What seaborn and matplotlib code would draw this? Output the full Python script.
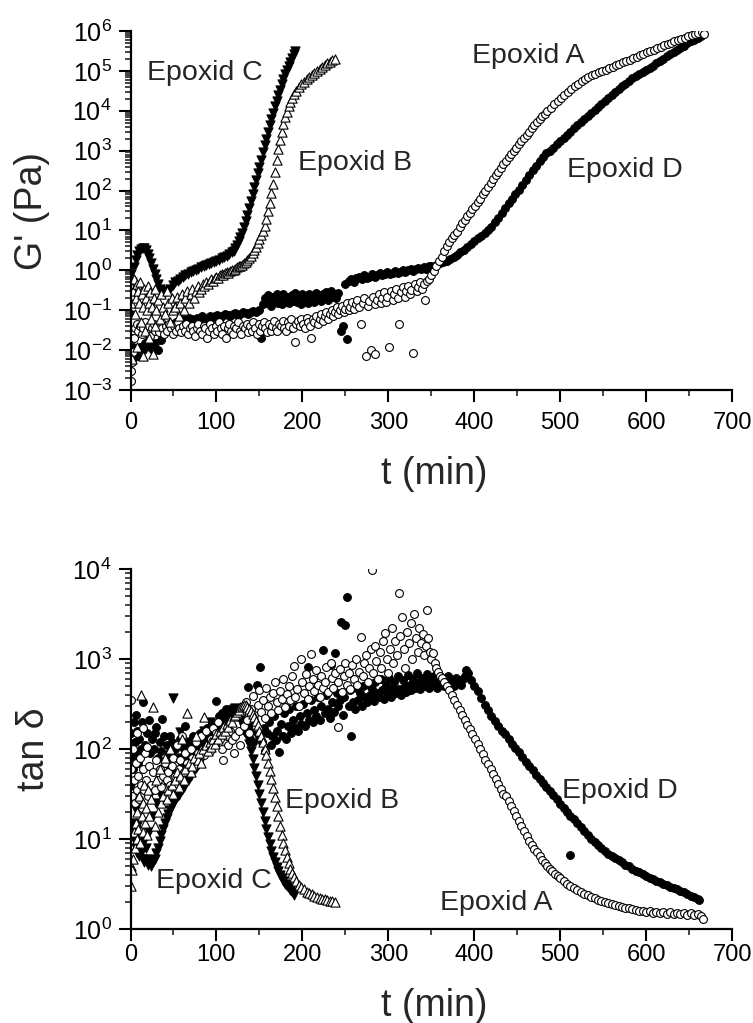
import numpy as np
import pandas as pd
import matplotlib
matplotlib.use('Agg')
import matplotlib.pyplot as plt
import seaborn as sns
from matplotlib.ticker import MultipleLocator, LogLocator, LogFormatterMathtext, NullFormatter

# ---------- G' (Pa) vs t (min) ----------
g_A = [(0, 0.0017), (1, 0.003), (2, 0.005), (3, 0.009), (4, 0.02), (5, 0.035), (7, 0.045), (9, 0.03),
       (11, 0.04), (13, 0.025), (15, 0.035), (17, 0.05), (19, 0.03), (21, 0.04), (23, 0.022), (25, 0.035),
       (27, 0.045), (29, 0.03), (31, 0.04), (33, 0.028), (35, 0.05), (37, 0.035), (39, 0.025), (41, 0.04),
       (43, 0.03), (45, 0.045), (47, 0.035), (49, 0.025), (51, 0.04), (53, 0.03), (55, 0.05), (57, 0.035),
       (59, 0.028), (61, 0.04), (63, 0.03), (65, 0.045), (67, 0.025), (69, 0.035), (71, 0.04), (73, 0.03),
       (75, 0.022), (77, 0.035), (79, 0.045), (81, 0.03), (83, 0.025), (85, 0.04), (87, 0.035), (89, 0.02),
       (91, 0.03), (93, 0.045), (95, 0.035), (97, 0.025), (99, 0.04), (101, 0.03), (103, 0.05), (105, 0.035),
       (107, 0.025), (109, 0.04), (111, 0.02), (113, 0.035), (115, 0.045), (117, 0.03), (119, 0.025),
       (121, 0.04), (123, 0.035), (125, 0.05), (127, 0.03), (129, 0.025), (131, 0.04), (133, 0.035),
       (135, 0.045), (137, 0.028), (139, 0.04), (141, 0.03), (143, 0.05), (145, 0.035), (147, 0.025),
       (149, 0.045), (151, 0.03), (153, 0.04), (155, 0.05), (157, 0.035), (159, 0.028), (161, 0.045),
       (163, 0.03), (165, 0.04), (167, 0.055), (169, 0.035), (171, 0.03), (173, 0.045), (175, 0.04),
       (177, 0.055), (179, 0.035), (181, 0.03), (183, 0.05), (185, 0.04), (187, 0.06), (189, 0.035),
       (191, 0.016), (193, 0.045), (195, 0.055), (197, 0.04), (199, 0.06), (201, 0.045), (203, 0.035),
       (205, 0.065), (207, 0.05), (209, 0.04), (210, 0.02), (212, 0.06), (214, 0.05), (216, 0.07),
       (218, 0.045), (220, 0.06), (222, 0.08), (224, 0.055), (226, 0.07), (228, 0.09), (230, 0.06),
       (232, 0.08), (234, 0.1), (236, 0.07), (238, 0.09), (240, 0.12), (242, 0.08), (244, 0.1), (246, 0.13),
       (248, 0.09), (250, 0.11), (252, 0.15), (254, 0.1), (256, 0.12), (258, 0.16), (260, 0.11), (262, 0.14),
       (264, 0.18), (266, 0.12), (268, 0.045), (270, 0.15), (272, 0.2), (274, 0.007), (276, 0.13),
       (278, 0.17), (280, 0.01), (282, 0.22), (284, 0.14), (285, 0.008), (287, 0.18), (289, 0.25),
       (291, 0.15), (293, 0.2), (295, 0.28), (297, 0.16), (299, 0.22), (301, 0.012), (303, 0.3), (305, 0.18),
       (307, 0.25), (309, 0.35), (311, 0.2), (313, 0.045), (315, 0.28), (317, 0.38), (319, 0.22), (321, 0.3),
       (323, 0.4), (325, 0.25), (327, 0.33), (329, 0.0085), (331, 0.45), (333, 0.3), (335, 0.38), (337, 0.5),
       (339, 0.35), (341, 0.45), (343, 0.18), (345, 0.55), (347, 0.6), (350, 0.75), (353, 0.95), (356, 1.3),
       (359, 1.7), (362, 2.2), (365, 3.0), (368, 4.0), (371, 5.2), (374, 6.5), (377, 7.8), (380, 9.3),
       (383, 12), (386, 15), (389, 18.5), (392, 23), (395, 28), (398, 34), (401, 42), (404, 51), (407, 63),
       (410, 80), (413, 100), (416, 125), (419, 155), (422, 195), (425, 245), (428, 300), (431, 370),
       (434, 460), (437, 560), (440, 680), (443, 830), (446, 1000), (449, 1200), (452, 1450), (455, 1750),
       (458, 2100), (461, 2500), (464, 3000), (467, 3600), (470, 4300), (473, 5100), (476, 6100),
       (479, 7200), (482, 8500), (485, 1.0e4), (489, 1.2e4), (493, 1.45e4), (497, 1.75e4), (501, 2.1e4),
       (505, 2.5e4), (509, 3.0e4), (513, 3.5e4), (517, 4.1e4), (521, 4.8e4), (525, 5.5e4), (529, 6.2e4),
       (533, 7.0e4), (537, 7.8e4), (541, 8.6e4), (545, 9.3e4), (549, 1.0e5), (553, 1.08e5), (557, 1.17e5),
       (561, 1.27e5), (565, 1.38e5), (569, 1.5e5), (573, 1.63e5), (577, 1.77e5), (581, 1.92e5),
       (585, 2.08e5), (589, 2.25e5), (593, 2.45e5), (597, 2.65e5), (601, 2.9e5), (605, 3.15e5),
       (609, 3.4e5), (613, 3.7e5), (617, 4.0e5), (621, 4.35e5), (625, 4.7e5), (629, 5.1e5), (633, 5.5e5),
       (637, 5.9e5), (641, 6.3e5), (645, 6.8e5), (649, 7.3e5), (653, 7.8e5), (657, 8.3e5), (661, 8.8e5),
       (665, 9.3e5), (667, 8.5e5)]

g_B = [(0, 0.4), (1, 0.15), (2, 0.006), (3, 0.3), (4, 0.6), (5, 0.08), (6, 0.2), (7, 0.45), (8, 0.012),
       (9, 0.3), (10, 0.15), (11, 0.5), (12, 0.05), (13, 0.25), (14, 0.007), (15, 0.12), (16, 0.35),
       (17, 0.03), (18, 0.2), (19, 0.1), (20, 0.4), (21, 0.02), (22, 0.15), (23, 0.28), (24, 0.06),
       (25, 0.12), (26, 0.008), (27, 0.2), (28, 0.35), (29, 0.04), (30, 0.1), (32, 0.18), (34, 0.06),
       (36, 0.25), (38, 0.12), (40, 0.08), (42, 0.3), (44, 0.15), (46, 0.05), (48, 0.2), (50, 0.1),
       (52, 0.12), (54, 0.22), (56, 0.07), (58, 0.15), (60, 0.25), (62, 0.1), (64, 0.2), (66, 0.3),
       (68, 0.15), (70, 0.25), (72, 0.35), (74, 0.2), (76, 0.3), (78, 0.4), (80, 0.28), (82, 0.35),
       (84, 0.45), (86, 0.4), (88, 0.5), (90, 0.45), (92, 0.55), (94, 0.6), (96, 0.55), (98, 0.65),
       (100, 0.7), (102, 0.65), (104, 0.75), (106, 0.8), (108, 0.75), (110, 0.85), (112, 0.9), (114, 0.85),
       (116, 0.95), (118, 1.0), (120, 1.0), (122, 1.1), (124, 1.2), (126, 1.25), (128, 1.3), (130, 1.4),
       (132, 1.5), (134, 1.6), (136, 1.8), (138, 2.0), (140, 2.3), (142, 2.7), (144, 3.2), (146, 3.9),
       (148, 4.8), (150, 6.0), (152, 7.5), (154, 9.5), (156, 13), (158, 19), (160, 30), (162, 50),
       (164, 85), (166, 150), (168, 300), (170, 600), (172, 1100), (174, 1900), (176, 3000), (178, 4600),
       (180, 6800), (182, 9500), (184, 1.3e4), (186, 1.7e4), (188, 2.1e4), (190, 2.6e4), (193, 3.2e4),
       (196, 3.9e4), (199, 4.6e4), (202, 5.4e4), (205, 6.2e4), (208, 7.1e4), (211, 8.0e4), (214, 9.0e4),
       (217, 1.0e5), (220, 1.1e5), (223, 1.25e5), (226, 1.4e5), (229, 1.55e5), (232, 1.7e5),
       (235, 1.85e5), (238, 2.0e5)]

g_C = [(0, 0.8), (2, 0.5), (4, 1.2), (6, 1.8), (8, 2.4), (10, 3.0), (12, 3.4), (14, 3.7), (16, 3.6),
       (18, 3.2), (20, 2.6), (22, 2.0), (24, 1.5), (26, 1.1), (28, 0.8), (30, 0.6), (32, 0.45), (34, 0.35),
       (36, 0.3), (38, 0.25), (40, 0.28), (43, 0.3), (46, 0.35), (49, 0.42), (52, 0.5), (55, 0.55),
       (58, 0.6), (61, 0.7), (64, 0.75), (67, 0.8), (70, 0.9), (73, 0.95), (76, 1.0), (79, 1.1), (82, 1.2),
       (85, 1.3), (88, 1.35), (91, 1.45), (94, 1.55), (97, 1.65), (100, 1.75), (103, 1.85), (106, 2.0),
       (109, 2.1), (112, 2.3), (115, 2.5), (118, 2.8), (120, 3.1), (122, 3.6), (124, 4.3), (126, 5.3),
       (128, 6.8), (130, 8.8), (132, 12), (134, 17), (136, 25), (138, 37), (140, 55), (142, 80), (144, 120),
       (146, 180), (148, 270), (150, 400), (152, 600), (154, 900), (156, 1350), (158, 2000), (160, 3000),
       (162, 4300), (164, 6200), (166, 9000), (168, 1.3e4), (170, 1.8e4), (172, 2.5e4), (174, 3.4e4),
       (176, 4.6e4), (178, 6.2e4), (180, 8.2e4), (182, 1.05e5), (184, 1.35e5), (186, 1.7e5), (188, 2.1e5),
       (190, 2.6e5), (192, 3.2e5)]

g_D = [(0, 0.08), (1, 0.02), (2, 0.006), (3, 0.012), (5, 0.009), (8, 0.007), (11, 0.012), (14, 0.01),
       (17, 0.015), (20, 0.017), (23, 0.012), (26, 0.01), (29, 0.015), (32, 0.01), (35, 0.018), (38, 0.025),
       (41, 0.03), (44, 0.035), (47, 0.03), (50, 0.045), (53, 0.05), (56, 0.055), (59, 0.06), (62, 0.055),
       (65, 0.06), (68, 0.065), (71, 0.06), (74, 0.05), (77, 0.065), (80, 0.06), (83, 0.07), (86, 0.065),
       (89, 0.06), (92, 0.07), (95, 0.065), (98, 0.07), (101, 0.075), (104, 0.065), (107, 0.07), (110, 0.08),
       (113, 0.075), (116, 0.07), (119, 0.08), (122, 0.085), (125, 0.075), (128, 0.08), (131, 0.09),
       (134, 0.085), (137, 0.08), (140, 0.09), (143, 0.095), (146, 0.09), (149, 0.1), (152, 0.02),
       (154, 0.14), (156, 0.2), (158, 0.15), (160, 0.24), (162, 0.17), (164, 0.13), (166, 0.22), (168, 0.16),
       (170, 0.26), (172, 0.15), (174, 0.2), (176, 0.14), (178, 0.25), (180, 0.18), (182, 0.22),
       (184, 0.15), (187, 0.035), (188, 0.24), (190, 0.17), (192, 0.27), (194, 0.16), (196, 0.21),
       (198, 0.14), (200, 0.25), (202, 0.19), (204, 0.23), (206, 0.15), (208, 0.26), (210, 0.18),
       (212, 0.22), (214, 0.16), (216, 0.27), (218, 0.2), (220, 0.24), (222, 0.17), (224, 0.25), (226, 0.2),
       (228, 0.28), (230, 0.18), (233, 0.3), (235, 0.22), (237, 0.26), (239, 0.2), (242, 0.27), (245, 0.03),
       (247, 0.04), (250, 0.45), (252, 0.019), (254, 0.55), (257, 0.6), (260, 0.5), (263, 0.65), (266, 0.7),
       (269, 0.6), (272, 0.75), (275, 0.65), (278, 0.7), (281, 0.8), (284, 0.7), (287, 0.75), (290, 0.85),
       (293, 0.75), (296, 0.8), (299, 0.9), (302, 0.8), (305, 0.85), (308, 0.95), (311, 0.85), (314, 0.9),
       (317, 1.0), (320, 0.9), (323, 1.0), (326, 1.1), (329, 0.95), (332, 1.05), (335, 1.15), (338, 1.05),
       (341, 1.2), (344, 1.1), (347, 1.25), (350, 1.3), (353, 1.2), (356, 1.35), (360, 1.5), (364, 1.6),
       (368, 1.7), (372, 1.9), (376, 2.1), (380, 2.4), (384, 2.8), (388, 3.2), (392, 3.8), (396, 4.5),
       (400, 5.3), (404, 6.3), (408, 7.4), (412, 8.6), (416, 10), (420, 12.5), (424, 16), (428, 21),
       (432, 28), (436, 37), (440, 48), (444, 62), (448, 80), (452, 105), (456, 140), (460, 185), (464, 240),
       (468, 320), (472, 420), (476, 550), (480, 700), (484, 850), (488, 1000), (492, 1200), (496, 1450),
       (500, 1750), (504, 2100), (508, 2500), (512, 3000), (516, 3600), (520, 4300), (524, 5100),
       (528, 6100), (532, 7300), (536, 8800), (540, 1.05e4), (544, 1.25e4), (548, 1.5e4), (552, 1.8e4),
       (556, 2.15e4), (560, 2.55e4), (564, 3.0e4), (568, 3.5e4), (572, 4.1e4), (576, 4.8e4), (580, 5.6e4),
       (584, 6.5e4), (588, 7.5e4), (592, 8.5e4), (596, 9.5e4), (600, 1.05e5), (604, 1.2e5), (608, 1.35e5),
       (612, 1.55e5), (616, 1.75e5), (620, 2.0e5), (624, 2.3e5), (628, 2.6e5), (632, 2.95e5), (636, 3.35e5),
       (640, 3.8e5), (644, 4.3e5), (648, 4.9e5), (652, 5.5e5), (656, 6.1e5), (660, 6.8e5), (664, 7.5e5)]

# ---------- tan delta vs t (min) ----------
d_A = [(0, 350), (1, 60), (2, 30), (3, 100), (4, 45), (5, 25), (6, 70), (7, 35), (8, 150), (9, 50),
       (10, 28), (11, 80), (12, 40), (13, 22), (14, 60), (15, 170), (16, 35), (17, 90), (18, 45), (19, 105),
       (20, 30), (22, 65), (24, 40), (26, 55), (28, 35), (30, 75), (32, 45), (34, 60), (36, 38), (38, 50),
       (40, 70), (42, 45), (44, 55), (46, 40), (48, 65), (50, 80), (52, 50), (54, 110), (56, 60), (58, 75),
       (60, 140), (62, 55), (64, 90), (66, 70), (68, 60), (70, 100), (72, 80), (74, 65), (76, 120), (78, 90),
       (80, 75), (82, 140), (84, 100), (86, 85), (88, 160), (90, 110), (92, 95), (94, 130), (96, 170),
       (98, 115), (100, 150), (102, 200), (104, 130), (106, 100), (108, 75), (110, 180), (112, 140),
       (114, 110), (116, 160), (118, 125), (120, 90), (122, 140), (124, 230), (126, 160), (128, 110),
       (130, 260), (132, 180), (134, 330), (136, 210), (138, 150), (140, 280), (142, 390), (144, 240),
       (146, 175), (148, 310), (150, 450), (152, 260), (154, 350), (156, 220), (158, 480), (160, 300),
       (162, 380), (164, 250), (166, 420), (168, 560), (170, 330), (172, 270), (174, 440), (176, 360),
       (178, 600), (180, 290), (182, 410), (184, 500), (186, 350), (188, 640), (190, 830), (192, 380),
       (194, 470), (196, 300), (198, 1000), (200, 550), (202, 420), (204, 680), (206, 360), (208, 500),
       (210, 1140), (212, 600), (214, 440), (216, 760), (218, 520), (220, 380), (222, 650), (224, 480),
       (226, 560), (228, 820), (230, 430), (233, 900), (234, 620), (236, 480), (238, 700), (241, 176),
       (242, 550), (244, 780), (246, 430), (248, 640), (250, 900), (252, 520), (254, 700), (256, 460),
       (258, 850), (260, 600), (262, 1000), (264, 520), (266, 720), (268, 1760), (270, 640), (272, 900),
       (274, 1100), (276, 560), (278, 800), (280, 1300), (281, 9800), (282, 700), (284, 1400), (286, 950),
       (288, 600), (290, 1200), (292, 800), (294, 1600), (296, 1950), (298, 1000), (300, 700), (302, 1300),
       (304, 2200), (306, 900), (308, 1600), (310, 1100), (312, 5400), (314, 1800), (316, 2900), (318, 1300),
       (320, 800), (322, 2000), (324, 1500), (326, 2500), (328, 1000), (330, 3200), (332, 1700),
       (334, 1200), (336, 2200), (338, 1500), (340, 1900), (342, 1100), (344, 1400), (345, 3500),
       (346, 1700), (348, 1200), (350, 1000), (352, 1170), (354, 900), (356, 800), (358, 720),
       (360, 650), (362, 620), (365, 560), (368, 500), (371, 455), (374, 400), (377, 350), (380, 310),
       (383, 270), (386, 240), (389, 210), (392, 185), (395, 165), (398, 145), (401, 128), (404, 113),
       (407, 100), (410, 87), (413, 76), (416, 68), (419, 60), (422, 53), (425, 47), (428, 41), (431, 36),
       (434, 32), (437, 30), (440, 26.5), (443, 23.5), (446, 20.5), (449, 18), (452, 15.8), (455, 13.9),
       (458, 12.2), (461, 10.7), (464, 9.6), (467, 8.6), (470, 7.8), (473, 7.1), (476, 6.5), (479, 5.9),
       (482, 5.4), (485, 5.0), (488, 4.7), (491, 4.4), (494, 4.1), (497, 3.85), (500, 3.65), (504, 3.4),
       (508, 3.2), (512, 3.0), (516, 2.85), (520, 2.7), (524, 2.58), (528, 2.46), (532, 2.36), (536, 2.27),
       (540, 2.19), (544, 2.12), (548, 2.05), (552, 1.99), (556, 1.93), (560, 1.88), (564, 1.83),
       (568, 1.79), (572, 1.76), (576, 1.72), (580, 1.69), (584, 1.66), (588, 1.63), (592, 1.6), (596, 1.58),
       (600, 1.56), (604, 1.6), (608, 1.52), (612, 1.56), (616, 1.5), (620, 1.54), (624, 1.48), (628, 1.53),
       (632, 1.47), (636, 1.52), (640, 1.45), (644, 1.5), (648, 1.44), (652, 1.49), (656, 1.42), (660, 1.47),
       (664, 1.38), (666, 1.3)]

d_B = [(0, 3), (1, 5), (2, 4.5), (3, 6), (4, 12), (5, 8), (6, 15), (7, 10), (8, 20), (9, 13), (10, 30),
       (11, 9), (12, 400), (13, 18), (14, 25), (15, 12), (16, 40), (17, 15), (18, 22), (19, 11), (20, 35),
       (22, 18), (24, 28), (26, 290), (28, 14), (30, 45), (32, 20), (34, 60), (36, 25), (38, 30), (40, 80),
       (42, 28), (44, 35), (46, 100), (48, 40), (50, 32), (52, 45), (54, 55), (56, 38), (58, 50), (60, 130),
       (62, 45), (64, 60), (66, 250), (68, 70), (70, 55), (72, 65), (74, 80), (76, 140), (78, 75), (80, 90),
       (82, 70), (84, 100), (86, 225), (88, 110), (90, 95), (92, 120), (94, 105), (96, 130), (98, 115),
       (100, 145), (102, 130), (104, 160), (106, 145), (108, 175), (110, 160), (112, 190), (114, 175),
       (116, 210), (118, 200), (120, 230), (122, 240), (124, 255), (126, 270), (128, 290), (130, 300),
       (132, 310), (134, 305), (136, 295), (138, 280), (140, 265), (142, 245), (144, 225), (146, 205),
       (148, 185), (150, 160), (152, 140), (154, 120), (156, 100), (158, 85), (160, 70), (162, 57),
       (164, 46), (166, 37), (168, 29), (170, 23), (172, 18), (174, 14), (176, 11), (178, 9), (180, 7.5),
       (182, 6.3), (184, 5.4), (186, 4.7), (188, 4.2), (190, 3.8), (193, 3.4), (196, 3.1), (199, 2.9),
       (202, 2.75), (205, 2.6), (208, 2.5), (211, 2.42), (214, 2.35), (217, 2.28), (220, 2.22), (223, 2.17),
       (226, 2.13), (229, 2.1), (232, 2.07), (235, 2.05), (238, 2.0)]

d_C = [(0, 80), (1, 25), (2, 13), (3, 15), (4, 10), (6, 8), (8, 7), (10, 6.5), (12, 7), (14, 6),
       (16, 5.5), (18, 6), (20, 5.2), (22, 5.8), (24, 5), (26, 5.5), (28, 6), (30, 7), (32, 8), (34, 9.5),
       (36, 11), (38, 13), (40, 15), (42, 17), (44, 19), (46, 21), (48, 23), (50, 25), (52, 27), (54, 29),
       (56, 31), (58, 33), (60, 35), (62, 38), (64, 41), (66, 44), (68, 47), (70, 50), (72, 54), (74, 58),
       (76, 62), (78, 67), (80, 72), (82, 78), (84, 84), (86, 90), (88, 97), (90, 104), (92, 112), (94, 120),
       (96, 130), (98, 140), (100, 150), (102, 162), (104, 175), (106, 188), (108, 200), (110, 215),
       (112, 230), (114, 245), (116, 258), (118, 270), (120, 280), (122, 285), (124, 280), (126, 270),
       (128, 255), (130, 230), (132, 200), (134, 170), (136, 140), (138, 115), (140, 95), (142, 78),
       (144, 62), (146, 50), (148, 40), (150, 32), (152, 25), (154, 20), (156, 16), (158, 13), (160, 10.5),
       (162, 8.8), (164, 7.4), (166, 6.3), (168, 5.5), (170, 4.9), (172, 4.4), (174, 4.0), (176, 3.7),
       (178, 3.4), (180, 3.2), (182, 3.0), (184, 2.85), (186, 2.7), (188, 2.55), (190, 2.4),
       # scattered early points
       (0, 60), (2, 40), (5, 22), (8, 14), (12, 10), (15, 9), (18, 8), (22, 12), (26, 18), (30, 25),
       (35, 30), (40, 45), (45, 60), (50, 370), (55, 80), (58, 155), (62, 100), (66, 65), (70, 120),
       (75, 90), (85, 160), (92, 200)]

d_D = [(0, 80), (1, 150), (2, 100), (3, 60), (4, 200), (5, 120), (6, 240), (7, 90), (8, 160), (9, 70),
       (10, 130), (12, 100), (13, 200), (15, 330), (17, 110), (19, 150), (21, 210), (23, 90), (25, 130),
       (27, 100), (29, 150), (30, 175), (32, 80), (34, 120), (36, 95), (37, 215), (39, 140), (41, 75),
       (43, 110), (45, 90), (46, 140), (48, 120), (50, 60), (52, 100), (54, 80), (56, 110), (58, 130),
       (60, 70), (62, 100), (63, 180), (65, 85), (67, 120), (69, 90), (71, 110), (73, 140), (75, 95),
       (77, 120), (79, 100), (81, 150), (83, 115), (85, 90), (87, 130), (89, 170), (91, 110), (93, 140),
       (95, 200), (97, 160), (99, 340), (101, 190), (103, 230), (105, 200), (107, 250), (109, 220),
       (111, 280), (113, 240), (115, 260), (117, 230), (119, 270), (121, 250), (123, 280), (125, 240),
       (127, 260), (129, 220), (131, 200), (133, 180), (135, 150), (137, 490), (139, 130), (141, 180),
       (143, 120), (145, 160), (147, 510), (149, 140), (151, 820), (153, 120), (155, 170), (157, 95),
       (159, 150), (161, 200), (163, 110), (165, 140), (167, 230), (169, 125), (171, 160), (173, 92),
       (175, 190), (177, 140), (179, 250), (181, 130), (183, 180), (185, 280), (187, 150), (189, 210),
       (191, 170), (193, 300), (195, 160), (197, 230), (199, 190), (201, 320), (203, 180), (205, 250),
       (206, 820), (208, 210), (210, 350), (212, 200), (214, 270), (216, 230), (218, 380), (220, 210),
       (222, 300), (224, 1250), (226, 250), (228, 400), (230, 280), (232, 220), (233, 860), (235, 330),
       (237, 260), (238, 1170), (240, 420), (242, 300), (244, 350), (245, 2600), (247, 240), (249, 380),
       (250, 2400), (252, 4900), (254, 300), (256, 450), (257, 140), (259, 330), (261, 280), (263, 480),
       (265, 350), (267, 420), (269, 300), (271, 500), (273, 380), (275, 330), (277, 520), (279, 400),
       (281, 460), (283, 340), (285, 550), (287, 420), (289, 380), (291, 600), (293, 450), (295, 360),
       (297, 520), (299, 430), (301, 620), (303, 380), (305, 480), (307, 560), (309, 420), (311, 650),
       (313, 470), (315, 400), (317, 580), (319, 500), (321, 430), (323, 660), (325, 520), (327, 450),
       (329, 600), (331, 480), (333, 700), (335, 540), (337, 460), (339, 620), (341, 500), (343, 560),
       (345, 680), (347, 480), (349, 600), (351, 520), (353, 640), (355, 560), (357, 480), (359, 620),
       (361, 540), (363, 600), (365, 500), (367, 580), (369, 650), (371, 530), (373, 600), (375, 560),
       (377, 500), (379, 620), (381, 550), (383, 580), (385, 520), (387, 600), (389, 650), (391, 750),
       (393, 700), (396, 580), (400, 500), (404, 440), (408, 370), (412, 310), (416, 270), (420, 235),
       (424, 205), (428, 180), (432, 160), (436, 145), (440, 130), (444, 115), (448, 102), (452, 92),
       (456, 82), (460, 72), (464, 64), (468, 58), (472, 52), (476, 46), (480, 42), (484, 38), (488, 34.5),
       (492, 31), (496, 27.5), (500, 24.5), (504, 22), (508, 20), (511, 6.6), (512, 18), (516, 16.5),
       (520, 15), (524, 13.5), (528, 12.2), (532, 11), (536, 10), (540, 9.2), (544, 8.5), (548, 7.9),
       (552, 7.4), (556, 6.9), (560, 6.5), (564, 6.1), (568, 5.8), (572, 5.5), (576, 5.2), (580, 4.95),
       (584, 4.7), (588, 4.45), (592, 4.25), (596, 4.05), (600, 3.88), (604, 3.72), (608, 3.57),
       (612, 3.43), (616, 3.3), (620, 3.17), (624, 3.05), (628, 2.95), (632, 2.85), (636, 2.75),
       (640, 2.65), (644, 2.55), (648, 2.45), (652, 2.35), (656, 2.25), (660, 2.15), (662, 2.1)]

# label positions (t, value)
labels_top = [('Epoxid C', 19, 6.0e4), ('Epoxid B', 195, 335), ('Epoxid A', 397, 1.58e5), ('Epoxid D', 508, 224)]
labels_bot = [('Epoxid C', 30, 2.86), ('Epoxid B', 180, 22), ('Epoxid A', 360, 1.63), ('Epoxid D', 502, 28.6)]

sns.set_style('ticks')
plt.rcParams['font.family'] = ['Liberation Sans', 'DejaVu Sans']
plt.rcParams['mathtext.default'] = 'regular'

styles = {
    'D': dict(marker='o', s=32, color='black', edgecolor='black', linewidth=0.7),
    'C': dict(marker='v', s=44, color='black', edgecolor='black', linewidth=0.7),
    'A': dict(marker='o', s=32, color='white', edgecolor='black', linewidth=0.8),
    'B': dict(marker='^', s=44, color='white', edgecolor='black', linewidth=0.8),
}


def to_df(pairs):
    return pd.DataFrame(pairs, columns=['t', 'v'])


def style_axis(ax, ylo, yhi, xpad):
    ax.set_yscale('log')
    ax.set_xlim(0, 700)
    ax.set_ylim(ylo, yhi)
    for side in ['top', 'right']:
        ax.spines[side].set_visible(False)
    for side in ['left', 'bottom']:
        ax.spines[side].set_linewidth(1.6)
        ax.spines[side].set_color('black')
    ax.xaxis.set_major_locator(MultipleLocator(100))
    ax.xaxis.set_minor_locator(MultipleLocator(50))
    ax.yaxis.set_major_locator(LogLocator(base=10, numticks=20))
    ax.yaxis.set_minor_locator(LogLocator(base=10, subs=np.arange(2, 10), numticks=100))
    ax.yaxis.set_major_formatter(LogFormatterMathtext())
    ax.yaxis.set_minor_formatter(NullFormatter())
    ax.tick_params(which='major', direction='out', length=8.5, width=1.5, colors='black')
    ax.tick_params(which='minor', direction='out', length=4.5, width=1.2)
    ax.tick_params(axis='x', which='major', pad=xpad, labelsize=17)
    ax.tick_params(axis='y', which='major', pad=5, labelsize=18)


fig = plt.figure(figsize=(7.53, 10.23), dpi=100)
ax1 = fig.add_axes([130.5 / 753, 1 - 390 / 1023, 601.5 / 753, 359 / 1023])
ax2 = fig.add_axes([130.5 / 753, 1 - 929 / 1023, 601.5 / 753, 360 / 1023])

for key, pairs in [('D', g_D), ('C', g_C), ('A', g_A), ('B', g_B)]:
    df = to_df(pairs)
    sns.scatterplot(data=df, x='t', y='v', ax=ax1, legend=False, **styles[key])

for key, pairs in [('D', d_D), ('C', d_C), ('A', d_A), ('B', d_B)]:
    df = to_df(pairs)
    sns.scatterplot(data=df, x='t', y='v', ax=ax2, legend=False, **styles[key])

style_axis(ax1, 1e-3, 1e6, 7)
style_axis(ax2, 1, 1e4, 2.5)

for txt, tx, ty in labels_top:
    ax1.text(tx, ty, txt, fontsize=20.5, ha='left', va='baseline')
for txt, tx, ty in labels_bot:
    ax2.text(tx, ty, txt, fontsize=20.5, ha='left', va='baseline')

ax1.set_xlabel('t (min)', fontsize=27)
ax1.set_ylabel("G' (Pa)", fontsize=27)
ax2.set_xlabel('t (min)', fontsize=27)
ax2.set_ylabel('tan δ', fontsize=27)
ax1.yaxis.set_label_coords(-0.134, 0.5)
ax2.yaxis.set_label_coords(-0.13, 0.5)
ax1.xaxis.set_label_coords(0.505, -0.185)
ax2.xaxis.set_label_coords(0.505, -0.163)

fig.savefig('out.png', dpi=100)
